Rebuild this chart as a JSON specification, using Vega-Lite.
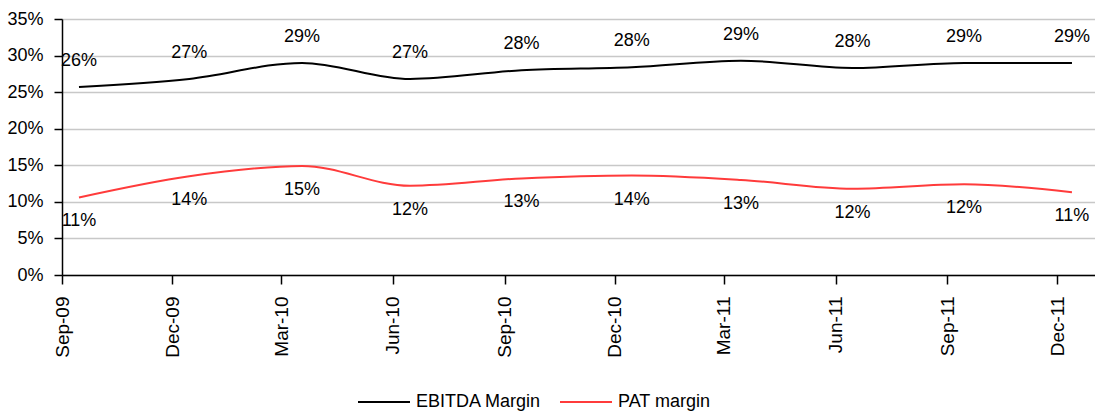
{
  "$schema": "https://vega.github.io/schema/vega-lite/v6.json",
  "width": 1033,
  "height": 256,
  "autosize": {"type": "none"},
  "padding": {"left": 62, "top": 19, "right": 0, "bottom": 141},
  "background": "white",
  "config": {"view": {"stroke": null}, "font": "Liberation Sans"},
  "data": {
    "values": [
      {"date": "2009-09-15", "series": "EBITDA Margin", "value": 0.257},
      {"date": "2009-12-15", "series": "EBITDA Margin", "value": 0.268},
      {"date": "2010-03-18", "series": "EBITDA Margin", "value": 0.290},
      {"date": "2010-06-15", "series": "EBITDA Margin", "value": 0.268},
      {"date": "2010-09-15", "series": "EBITDA Margin", "value": 0.280},
      {"date": "2010-12-15", "series": "EBITDA Margin", "value": 0.284},
      {"date": "2011-03-15", "series": "EBITDA Margin", "value": 0.293},
      {"date": "2011-06-15", "series": "EBITDA Margin", "value": 0.283},
      {"date": "2011-09-15", "series": "EBITDA Margin", "value": 0.290},
      {"date": "2011-12-13", "series": "EBITDA Margin", "value": 0.290},
      {"date": "2009-09-15", "series": "PAT margin", "value": 0.106},
      {"date": "2009-12-15", "series": "PAT margin", "value": 0.135},
      {"date": "2010-03-18", "series": "PAT margin", "value": 0.149},
      {"date": "2010-06-15", "series": "PAT margin", "value": 0.122},
      {"date": "2010-09-15", "series": "PAT margin", "value": 0.132},
      {"date": "2010-12-15", "series": "PAT margin", "value": 0.136},
      {"date": "2011-03-15", "series": "PAT margin", "value": 0.130},
      {"date": "2011-06-15", "series": "PAT margin", "value": 0.118},
      {"date": "2011-09-15", "series": "PAT margin", "value": 0.124},
      {"date": "2011-12-13", "series": "PAT margin", "value": 0.113}
    ]
  },
  "encoding": {
    "x": {
      "field": "date", "type": "temporal",
      "scale": {"type": "utc", "domain": [{"year": 2009, "month": 9, "date": 1, "utc": true}, {"year": 2012, "month": 1, "date": 1, "utc": true}]},
      "axis": {
        "title": null, "grid": false, "format": "%b-%y",
        "values": [
          {"year": 2009, "month": 9, "date": 1, "utc": true},
          {"year": 2009, "month": 12, "date": 1, "utc": true},
          {"year": 2010, "month": 3, "date": 1, "utc": true},
          {"year": 2010, "month": 6, "date": 1, "utc": true},
          {"year": 2010, "month": 9, "date": 1, "utc": true},
          {"year": 2010, "month": 12, "date": 1, "utc": true},
          {"year": 2011, "month": 3, "date": 1, "utc": true},
          {"year": 2011, "month": 6, "date": 1, "utc": true},
          {"year": 2011, "month": 9, "date": 1, "utc": true},
          {"year": 2011, "month": 12, "date": 1, "utc": true}
        ],
        "labelAngle": -90, "labelFontSize": 19, "labelColor": "black", "labelPadding": 12,
        "labelOverlap": false, "labelFlush": false,
        "tickSize": 9, "tickColor": "black", "tickWidth": 1.5,
        "domainColor": "black", "domainWidth": 1.5
      }
    },
    "y": {
      "field": "value", "type": "quantitative",
      "scale": {"domain": [0, 0.35], "nice": false},
      "axis": {
        "title": null, "format": ".0%",
        "values": [0, 0.05, 0.1, 0.15, 0.2, 0.25, 0.3, 0.35],
        "labelOverlap": false, "labelFlush": false,
        "grid": true, "gridColor": "#c8c8c8", "gridWidth": 1.5,
        "labelFontSize": 18, "labelColor": "black", "labelPadding": 11,
        "tickSize": 8, "tickColor": "black", "tickWidth": 1.5,
        "domainColor": "black", "domainWidth": 1.5
      }
    }
  },
  "layer": [
    {
      "mark": {"type": "line", "interpolate": "monotone", "strokeWidth": 2},
      "encoding": {
        "color": {
          "field": "series", "type": "nominal",
          "scale": {"domain": ["EBITDA Margin", "PAT margin"], "range": ["#000000", "#ff3b3b"]},
          "legend": {
            "title": null, "orient": "none", "legendX": 295, "legendY": 356,
            "direction": "horizontal", "symbolType": "stroke", "symbolSize": 2704,
            "symbolStrokeWidth": 2, "labelFontSize": 18, "labelColor": "black",
            "labelOffset": 5, "columnPadding": 14
          }
        }
      }
    },
    {
      "transform": [{"filter": "datum.series === 'EBITDA Margin'"}],
      "mark": {"type": "text", "dy": -26, "fontSize": 18, "color": "black"},
      "encoding": {
        "text": {"field": "value", "type": "quantitative", "format": ".0%"}
      }
    },
    {
      "transform": [{"filter": "datum.series === 'PAT margin'"}],
      "mark": {"type": "text", "dy": 24, "fontSize": 18, "color": "black"},
      "encoding": {
        "text": {"field": "value", "type": "quantitative", "format": ".0%"}
      }
    }
  ]
}
